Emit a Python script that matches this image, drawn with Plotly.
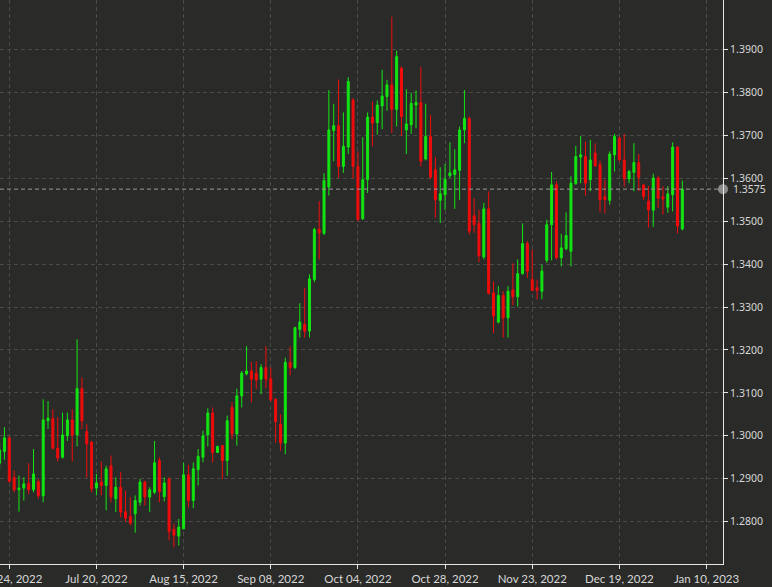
import pandas as pd
import plotly.graph_objects as go

# ---------------- data (USD/CAD daily candles) ----------------
dates = pd.bdate_range("2022-06-22", "2023-01-05").strftime("%Y-%m-%d").tolist()

opens = [
    1.2936, 1.2963, 1.2995, 1.2903, 1.2874, 1.2878, 1.2889, 1.2874, 1.2893, 1.2860,
    1.3035, 1.3040, 1.2971, 1.2950, 1.3000, 1.3037, 1.3002, 1.3110, 1.3010, 1.2985,
    1.2878, 1.2892, 1.2884, 1.2930, 1.2853, 1.2880, 1.2823, 1.2812, 1.2818, 1.2845,
    1.2892, 1.2857, 1.2868, 1.2942, 1.2858, 1.2899, 1.2782, 1.2766, 1.2783, 1.2909,
    1.2849, 1.2921, 1.2950, 1.3002, 1.3053, 1.2961, 1.2977, 1.2942, 1.3066, 1.3004,
    1.3093, 1.3144, 1.3151, 1.3146, 1.3132, 1.3159, 1.3133, 1.3085, 1.3027, 1.2983,
    1.3171, 1.3159, 1.3248, 1.3260, 1.3244, 1.3364, 1.3481, 1.3472, 1.3580, 1.3712,
    1.3723, 1.3628, 1.3673, 1.3783, 1.3628, 1.3506, 1.3597, 1.3743, 1.3730, 1.3769,
    1.3791, 1.3818, 1.3761, 1.3857, 1.3713, 1.3725, 1.3771, 1.3777, 1.3645, 1.3698,
    1.3620, 1.3549, 1.3562, 1.3606, 1.3609, 1.3619, 1.3713, 1.3740, 1.3513, 1.3495,
    1.3417, 1.3529, 1.3333, 1.3265, 1.3327, 1.3275, 1.3340, 1.3324, 1.3378, 1.3448,
    1.3364, 1.3345, 1.3337, 1.3409, 1.3492, 1.3585, 1.3415, 1.3436, 1.3430, 1.3588,
    1.3650, 1.3651, 1.3597, 1.3659, 1.3632, 1.3557, 1.3549, 1.3655, 1.3694, 1.3643,
    1.3599, 1.3614, 1.3637, 1.3585, 1.3547, 1.3526, 1.3601, 1.3557, 1.3533, 1.3562,
    1.3673, 1.3482,
]
highs = [
    1.2985, 1.3020, 1.3000, 1.2919, 1.2907, 1.2903, 1.2936, 1.2969, 1.2899, 1.3085,
    1.3081, 1.3062, 1.3043, 1.3054, 1.3054, 1.3062, 1.3225, 1.3136, 1.3027, 1.2988,
    1.2911, 1.2940, 1.2930, 1.2954, 1.2903, 1.2915, 1.2872, 1.2857, 1.2861, 1.2899,
    1.2895, 1.2880, 1.2988, 1.2950, 1.2903, 1.2903, 1.2795, 1.2806, 1.2937, 1.2932,
    1.2938, 1.2969, 1.3012, 1.3064, 1.3066, 1.2977, 1.2978, 1.3047, 1.3078, 1.3110,
    1.3151, 1.3209, 1.3172, 1.3174, 1.3167, 1.3209, 1.3159, 1.3087, 1.3050, 1.3182,
    1.3208, 1.3254, 1.3309, 1.3345, 1.3376, 1.3485, 1.3547, 1.3612, 1.3806, 1.3774,
    1.3831, 1.3754, 1.3836, 1.3787, 1.3663, 1.3696, 1.3754, 1.3779, 1.3782, 1.3853,
    1.3830, 1.3977, 1.3898, 1.3861, 1.3808, 1.3800, 1.3805, 1.3860, 1.3774, 1.3748,
    1.3650, 1.3626, 1.3634, 1.3684, 1.3668, 1.3721, 1.3806, 1.3744, 1.3554, 1.3527,
    1.3543, 1.3570, 1.3360, 1.3349, 1.3337, 1.3349, 1.3402, 1.3411, 1.3495, 1.3454,
    1.3434, 1.3364, 1.3399, 1.3504, 1.3615, 1.3593, 1.3471, 1.3521, 1.3605, 1.3676,
    1.3699, 1.3686, 1.3690, 1.3682, 1.3642, 1.3597, 1.3663, 1.3704, 1.3698, 1.3704,
    1.3620, 1.3682, 1.3657, 1.3585, 1.3582, 1.3611, 1.3605, 1.3582, 1.3582, 1.3684,
    1.3675, 1.3595,
]
lows = [
    1.2920, 1.2944, 1.2892, 1.2868, 1.2823, 1.2849, 1.2864, 1.2868, 1.2854, 1.2845,
    1.3016, 1.2968, 1.2940, 1.2947, 1.2988, 1.2940, 1.2975, 1.3016, 1.2903, 1.2868,
    1.2861, 1.2861, 1.2826, 1.2845, 1.2822, 1.2810, 1.2799, 1.2791, 1.2774, 1.2837,
    1.2837, 1.2822, 1.2864, 1.2845, 1.2847, 1.2756, 1.2740, 1.2744, 1.2782, 1.2833,
    1.2831, 1.2884, 1.2938, 1.2975, 1.2938, 1.2960, 1.2899, 1.2907, 1.2992, 1.2977,
    1.3066, 1.3141, 1.3078, 1.3109, 1.3097, 1.3112, 1.3079, 1.2984, 1.2965, 1.2957,
    1.3141, 1.3155, 1.3229, 1.3229, 1.3229, 1.3358, 1.3411, 1.3468, 1.3560, 1.3640,
    1.3601, 1.3613, 1.3657, 1.3599, 1.3500, 1.3503, 1.3566, 1.3675, 1.3702, 1.3715,
    1.3758, 1.3706, 1.3721, 1.3699, 1.3657, 1.3704, 1.3717, 1.3628, 1.3642, 1.3598,
    1.3508, 1.3496, 1.3527, 1.3601, 1.3529, 1.3550, 1.3682, 1.3469, 1.3473, 1.3405,
    1.3411, 1.3329, 1.3239, 1.3262, 1.3229, 1.3229, 1.3304, 1.3301, 1.3376, 1.3368,
    1.3337, 1.3318, 1.3318, 1.3403, 1.3409, 1.3411, 1.3395, 1.3433, 1.3395, 1.3585,
    1.3589, 1.3560, 1.3570, 1.3628, 1.3521, 1.3518, 1.3539, 1.3616, 1.3640, 1.3581,
    1.3589, 1.3570, 1.3570, 1.3550, 1.3485, 1.3487, 1.3531, 1.3516, 1.3520, 1.3523,
    1.3472, 1.3479,
]
closes = [
    1.2967, 1.2995, 1.2893, 1.2874, 1.2878, 1.2888, 1.2874, 1.2911, 1.2860, 1.3037,
    1.3041, 1.2971, 1.2948, 1.3002, 1.3037, 1.3002, 1.3110, 1.3035, 1.2981, 1.2876,
    1.2890, 1.2884, 1.2923, 1.2857, 1.2880, 1.2822, 1.2808, 1.2796, 1.2849, 1.2892,
    1.2857, 1.2874, 1.2937, 1.2870, 1.2890, 1.2777, 1.2768, 1.2787, 1.2909, 1.2849,
    1.2923, 1.2952, 1.3000, 1.3053, 1.2961, 1.2975, 1.2942, 1.3035, 1.3004, 1.3093,
    1.3146, 1.3151, 1.3132, 1.3130, 1.3159, 1.3132, 1.3084, 1.3033, 1.2983, 1.3171,
    1.3159, 1.3252, 1.3265, 1.3244, 1.3366, 1.3481, 1.3473, 1.3595, 1.3713, 1.3723,
    1.3628, 1.3675, 1.3826, 1.3628, 1.3504, 1.3597, 1.3743, 1.3729, 1.3771, 1.3792,
    1.3818, 1.3761, 1.3884, 1.3744, 1.3727, 1.3775, 1.3777, 1.3640, 1.3698, 1.3603,
    1.3550, 1.3564, 1.3598, 1.3613, 1.3620, 1.3713, 1.3740, 1.3477, 1.3492, 1.3420,
    1.3529, 1.3332, 1.3279, 1.3327, 1.3275, 1.3337, 1.3324, 1.3378, 1.3448, 1.3384,
    1.3339, 1.3339, 1.3384, 1.3492, 1.3585, 1.3415, 1.3438, 1.3467, 1.3589, 1.3651,
    1.3655, 1.3589, 1.3643, 1.3629, 1.3550, 1.3551, 1.3657, 1.3698, 1.3644, 1.3599,
    1.3616, 1.3637, 1.3603, 1.3558, 1.3527, 1.3601, 1.3554, 1.3552, 1.3564, 1.3673,
    1.3489, 1.3575,
]

tick_labels = ["Jun 24, 2022", "Jul 20, 2022", "Aug 15, 2022", "Sep 08, 2022",
               "Oct 04, 2022", "Oct 28, 2022", "Nov 23, 2022", "Dec 19, 2022",
               "Jan 10, 2023"]
y_ticks = [1.28, 1.29, 1.30, 1.31, 1.32, 1.33, 1.34, 1.35, 1.36, 1.37, 1.38, 1.39]

# ---------------- styling ----------------
BG = "#2a2b29"
GREEN = "#12e612"
RED = "#f00c0c"
GRID = "#4a4b49"
AXIS = "#e6e6e6"
TXT = "#d8d8d8"

pos = list(range(len(dates)))
first_tick = dates.index("2022-06-24")
TICK_STEP = 18  # bars between date labels
tickvals = [first_tick + TICK_STEP * i for i in range(len(tick_labels))]

x_range = [first_tick - 1.92, first_tick + 147.4]
last = closes[-1]

fig = go.Figure()
fig.add_trace(go.Candlestick(
    x=pos, open=opens, high=highs, low=lows, close=closes,
    increasing=dict(line=dict(color=GREEN, width=1), fillcolor=GREEN),
    decreasing=dict(line=dict(color=RED, width=1), fillcolor=RED),
    whiskerwidth=0, hoverinfo="skip", showlegend=False,
))

# last price marker on the axis
fig.add_trace(go.Scatter(
    x=[x_range[1]], y=[last], mode="markers", cliponaxis=False,
    marker=dict(size=10, color="#8a8a8a"), hoverinfo="skip", showlegend=False,
))

fig.add_shape(type="line", xref="paper", x0=0, x1=1, yref="y", y0=last, y1=last,
              line=dict(color="#9a9a9a", width=1, dash="4px,3px"), layer="above")

fig.add_annotation(xref="paper", x=1, yref="y", y=last, text=f"{last:.4f}",
                   showarrow=False, xanchor="left", yanchor="middle", xshift=8,
                   font=dict(family="Noto Sans", size=10.5, color=TXT))

fig.update_layout(
    width=772, height=587,
    margin=dict(l=0, r=49, t=0, b=23, autoexpand=False),
    paper_bgcolor=BG, plot_bgcolor=BG,
    boxgap=0.42,
    xaxis=dict(
        range=x_range, rangeslider=dict(visible=False),
        tickmode="array", tickvals=tickvals, ticktext=tick_labels,
        ticklabeloverflow="allow",
        showgrid=True, gridcolor=GRID, griddash="4px,3px", gridwidth=1,
        showline=True, linecolor=AXIS, linewidth=1,
        ticks="outside", ticklen=4, tickcolor=AXIS,
        tickfont=dict(family="Lato", size=11.5, color=TXT),
        zeroline=False, fixedrange=True, automargin=False,
    ),
    yaxis=dict(
        side="right", range=[1.2701, 1.4016],
        tickmode="array", tickvals=y_ticks, ticktext=[f"{v:.4f}" for v in y_ticks],
        ticklabeloverflow="allow",
        showgrid=True, gridcolor=GRID, griddash="4px,3px", gridwidth=1,
        showline=True, linecolor=AXIS, linewidth=1,
        ticks="outside", ticklen=4, tickcolor=AXIS,
        tickfont=dict(family="Noto Sans", size=10.5, color=TXT),
        zeroline=False, fixedrange=True, automargin=False,
    ),
)

fig.write_html("out.html", config={"displayModeBar": False},
               post_script="document.body.style.margin='0px';document.body.style.overflow='hidden';")
